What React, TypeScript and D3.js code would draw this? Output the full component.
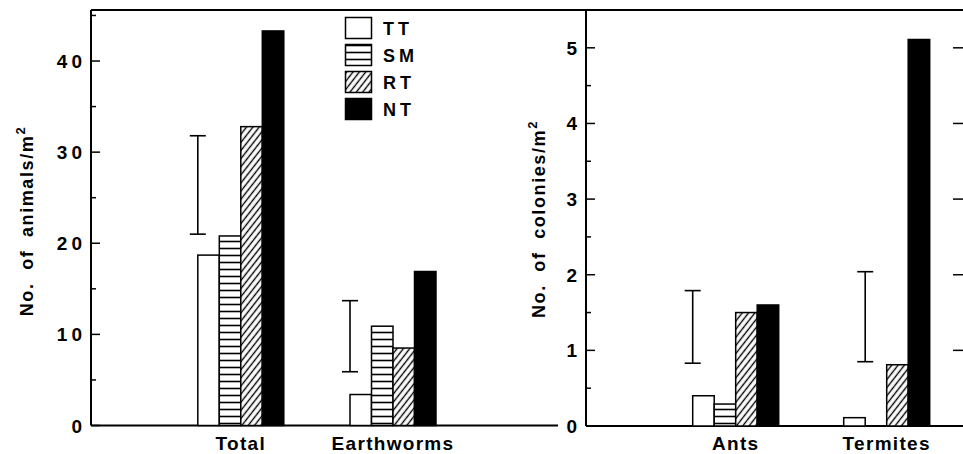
import React from "react";
import * as d3 from "d3";

// ---- Data ----
const series = ["TT", "SM", "RT", "NT"];
const leftCategories = ["Total", "Earthworms"];
const leftTT = [18.7, 3.4];
const leftSM = [20.8, 10.9];
const leftRT = [32.8, 8.5];
const leftNT = [43.3, 16.9];
const leftErrLow = [21.0, 5.9];
const leftErrHigh = [31.8, 13.7];
const leftErrSlot = [0, 0];

const rightCategories = ["Ants", "Termites"];
const rightTT = [0.4, 0.11];
const rightSM = [0.29, 0];
const rightRT = [1.5, 0.81];
const rightNT = [1.6, 5.11];
const rightErrLow = [0.83, 0.85];
const rightErrHigh = [1.79, 2.04];
const rightErrSlot = [0, 1];

const leftTicks = [0, 10, 20, 30, 40];
const leftMinor = [5, 15, 25, 35, 45];
const rightTicks = [0, 1, 2, 3, 4, 5];
const rightMinor = [0.5, 1.5, 2.5, 3.5, 4.5];

const W = 963;
const H = 454;
const FONT = "'Liberation Sans', Arial, Helvetica, sans-serif";
const fills = ["#fff", "url(#hstripe)", "url(#diag)", "#000"];

export default function App() {
  const top = 10;
  const yL = d3.scaleLinear().domain([0, 45.6]).range([425.5, top]);
  const yR = d3.scaleLinear().domain([0, 5.5]).range([426, top]);
  const xL = d3.scaleLinear().domain([0, 3]).range([88.6, 545.2]);
  const xR = d3.scaleLinear().domain([0, 3]).range([584.7, 1037.7]);
  const bw = 21.5;

  const leftAxisX = 91;
  const rightAxisX = 586;

  const panel = (
    cats: string[],
    vals: number[][],
    lo: number[],
    hi: number[],
    slots: number[],
    x: d3.ScaleLinear<number, number>,
    y: d3.ScaleLinear<number, number>,
    key: string
  ) => (
    <g key={key}>
      {cats.map((c, ci) => {
        const cx = x(ci + 1);
        const left = cx - 2 * bw;
        const ex = left + slots[ci] * bw;
        return (
          <g key={c}>
            {series.map((s, si) => {
              const v = vals[si][ci];
              if (v <= 0) return null;
              return (
                <rect
                  key={s}
                  x={left + si * bw}
                  y={y(v)}
                  width={bw}
                  height={y(0) - y(v)}
                  fill={fills[si]}
                  stroke="#000"
                  strokeWidth={1.5}
                />
              );
            })}
            <g stroke="#000" strokeWidth={1.6}>
              <line x1={ex} x2={ex} y1={y(hi[ci])} y2={y(lo[ci])} />
              <line x1={ex - 8} x2={ex + 8} y1={y(hi[ci])} y2={y(hi[ci])} />
              <line x1={ex - 8} x2={ex + 8} y1={y(lo[ci])} y2={y(lo[ci])} />
            </g>
            <text
              x={cx}
              y={450}
              textAnchor="middle"
              fontFamily={FONT}
              fontWeight="bold"
              fontSize={19}
              letterSpacing={1.3}
            >
              {c}
            </text>
          </g>
        );
      })}
    </g>
  );

  return (
    <svg width={W} height={H} style={{ position: "absolute", left: 0, top: 0 }}>
      <defs>
        <pattern id="hstripe" patternUnits="userSpaceOnUse" width={8} height={7}>
          <rect width={8} height={7} fill="#fff" />
          <line x1={0} x2={8} y1={3.5} y2={3.5} stroke="#000" strokeWidth={1.6} />
        </pattern>
        <pattern
          id="diag"
          patternUnits="userSpaceOnUse"
          width={5}
          height={10}
          patternTransform="rotate(38)"
        >
          <rect width={5} height={10} fill="#fff" />
          <line x1={2.5} x2={2.5} y1={0} y2={10} stroke="#000" strokeWidth={1.4} />
        </pattern>
      </defs>
      <rect width={W} height={H} fill="#fff" />

      {/* frame lines */}
      <g stroke="#000" fill="none">
        <line x1={leftAxisX} x2={W} y1={top} y2={top} strokeWidth={2} />
        <line x1={leftAxisX} x2={leftAxisX} y1={top} y2={yL(0)} strokeWidth={2} />
        <line x1={leftAxisX} x2={558} y1={yL(0)} y2={yL(0)} strokeWidth={2} />
        <line x1={rightAxisX} x2={rightAxisX} y1={top} y2={yR(0)} strokeWidth={2} />
        <line x1={rightAxisX} x2={W} y1={yR(0)} y2={yR(0)} strokeWidth={2} />
      </g>

      {/* axis ticks */}
      <g stroke="#000" strokeWidth={1.5}>
        {leftTicks.map((t) => (
          <line key={"lt" + t} x1={leftAxisX} x2={leftAxisX + 9} y1={yL(t)} y2={yL(t)} />
        ))}
        {leftMinor.map((t) => (
          <line key={"lm" + t} x1={leftAxisX} x2={leftAxisX + 5} y1={yL(t)} y2={yL(t)} />
        ))}
        {rightTicks.map((t) => (
          <line key={"rt" + t} x1={rightAxisX} x2={rightAxisX + 9} y1={yR(t)} y2={yR(t)} />
        ))}
        {rightMinor.map((t) => (
          <line key={"rm" + t} x1={rightAxisX} x2={rightAxisX + 5} y1={yR(t)} y2={yR(t)} />
        ))}
        {rightTicks.filter((t) => t > 0).map((t) => (
          <line key={"rr" + t} x1={W - 10} x2={W} y1={yR(t)} y2={yR(t)} />
        ))}
      </g>
      <g fontFamily={FONT} fontWeight="bold" fontSize={19}>
        {leftTicks.map((t) => (
          <text key={"ltl" + t} x={82 + 4} y={yL(t) + 7} textAnchor="end" letterSpacing={4}>
            {t}
          </text>
        ))}
        {rightTicks.map((t) => (
          <text key={"rtl" + t} x={577} y={yR(t) + 7} textAnchor="end">
            {t}
          </text>
        ))}
      </g>

      {/* y labels */}
      <text
        transform={`translate(33,221) rotate(-90)`}
        textAnchor="middle"
        fontFamily={FONT}
        fontWeight="bold"
        fontSize={18}
        letterSpacing={1.6}
        style={{ wordSpacing: "6px" }}
      >
        No. of animals/m<tspan dy={-8} fontSize={13}>2</tspan>
      </text>
      <text
        transform={`translate(545,219) rotate(-90)`}
        textAnchor="middle"
        fontFamily={FONT}
        fontWeight="bold"
        fontSize={18}
        letterSpacing={1.6}
        style={{ wordSpacing: "6px" }}
      >
        No. of colonies/m<tspan dy={-8} fontSize={13}>2</tspan>
      </text>

      {panel(leftCategories, [leftTT, leftSM, leftRT, leftNT], leftErrLow, leftErrHigh, leftErrSlot, xL, yL, "L")}
      {panel(rightCategories, [rightTT, rightSM, rightRT, rightNT], rightErrLow, rightErrHigh, rightErrSlot, xR, yR, "R")}

      {/* legend */}
      <g fontFamily={FONT} fontWeight="bold" fontSize={18}>
        {series.map((s, i) => {
          const ly = 17.5 + i * 27;
          return (
            <g key={s}>
              <rect x={345.5} y={ly} width={26} height={21} fill={fills[i]} stroke="#000" strokeWidth={1.5} />
              <text x={383} y={ly + 17} letterSpacing={4}>
                {s}
              </text>
            </g>
          );
        })}
      </g>
    </svg>
  );
}
